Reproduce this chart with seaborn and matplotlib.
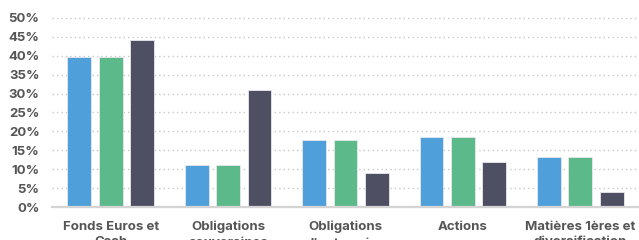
import matplotlib.pyplot as plt
import pandas as pd
import seaborn as sns

# Data (in %)
categories = ["Fonds Euros et\nCash", "Obligations\nsouveraines", "Obligations\nd'entreprise",
              "Actions", "Matières 1ères et\ndiversification"]
series = ["Série 1", "Série 2", "Série 3"]
serie1 = [39.8, 11.2, 17.6, 18.5, 13.2]
serie2 = [39.8, 11.2, 17.6, 18.5, 13.2]
serie3 = [44.1, 30.9, 8.9, 12.0, 4.0]
colors = ["#4FA0DA", "#5BB98A", "#4E4F63"]

rows = []
for name, vals in zip(series, [serie1, serie2, serie3]):
    for cat, v in zip(categories, vals):
        rows.append({"categorie": cat, "serie": name, "valeur": v})
df = pd.DataFrame(rows)

sns.set_style("white")
plt.rcParams['font.family'] = ['Inter', 'DejaVu Sans']

fig = plt.figure(figsize=(6.39, 2.4), dpi=100)
ax = fig.add_axes([52 / 639, 1 - 207 / 240, 1 - 52 / 639, (207 - 14.2) / 240])
sns.barplot(data=df, x="categorie", y="valeur", hue="serie", palette=colors,
            width=0.8, gap=0.24, ax=ax, legend=False, saturation=1,
            edgecolor="#e8e8ee", linewidth=0.6)

ax.set_ylim(0, 51)
ax.set_xlim(-0.5, 4.5)
ax.set_yticks(range(0, 55, 5))
ax.set_yticklabels([f"{t}%" for t in range(0, 55, 5)])
ax.yaxis.grid(True, linestyle=(0, (1, 2.2)), color="#c8c8c8", linewidth=1)
ax.set_axisbelow(True)
for s in ["top", "right", "left"]:
    ax.spines[s].set_visible(False)
ax.spines["bottom"].set_color("#d4d4d4")
ax.spines["bottom"].set_linewidth(1.6)
ax.tick_params(axis="both", length=0, labelsize=9.5, labelcolor="#555555")
ax.tick_params(axis="y", pad=9)
ax.tick_params(axis="x", pad=10)
for lab in ax.get_xticklabels() + ax.get_yticklabels():
    lab.set_fontweight("bold")
    lab.set_linespacing(1.4)
for lab in ax.get_xticklabels():
    lab.set_verticalalignment("top")
ax.set_xlabel("")
ax.set_ylabel("")

fig.savefig("out.png", dpi=100)
